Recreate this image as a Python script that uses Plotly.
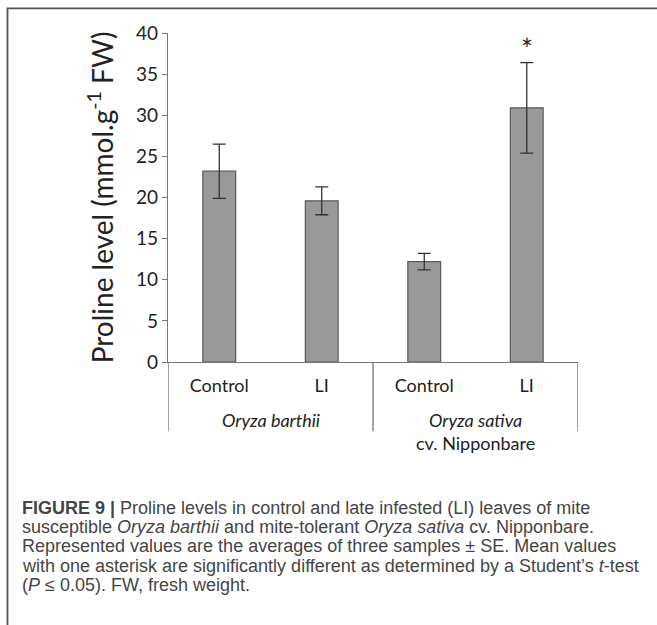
import plotly.graph_objects as go

# ---- data ----
categories = ["Control", "LI", "Control", "LI"]
groups = ["<i>Oryza barthii</i>", "<i>Oryza sativa</i><br>cv. Nipponbare"]
proline = [23.2, 19.6, 12.2, 30.9]
proline_se = [3.3, 1.7, 1.0, 5.5]
significant = [False, False, False, True]
y_ticks = [0, 5, 10, 15, 20, 25, 30, 35, 40]
caption_lines = [
    "<b>FIGURE 9 |</b> Proline levels in control and late infested (LI) leaves of mite",
    "susceptible <i>Oryza barthii</i> and mite-tolerant <i>Oryza sativa</i> cv. Nipponbare.",
    "Represented values are the averages of three samples ± SE. Mean values",
    "with one asterisk are significantly different as determined by a Student’s <i>t</i>-test",
    "(<i>P</i> ≤ 0.05). FW, fresh weight.",
]

# ---- geometry (pixels) ----
W, H = 657, 625
PL, PR, PT, PB = 168, 578, 32.7, 361.7
pw, ph = PR - PL, PB - PT


def px(x):
    return (x - PL) / pw


def py(y):
    return (PB - y) / ph


xs = list(range(len(categories)))
CHART_FONT = "Lato"

fig = go.Figure()
fig.add_trace(go.Bar(
    x=xs, y=proline, width=0.32,
    marker=dict(color="#999999", line=dict(color="#5a5a5a", width=1.2)),
    error_y=dict(type="data", array=proline_se, visible=True,
                 color="#333333", thickness=1.3, width=6.5),
    showlegend=False,
))

annotations = []
# significance asterisks
for i, (v, e, s) in enumerate(zip(proline, proline_se, significant)):
    if s:
        annotations.append(dict(x=i, y=v + e + 1.6, xref="x", yref="y", text="*",
                                showarrow=False, yanchor="middle",
                                font=dict(family=CHART_FONT, size=28, color="#222")))
# group labels
for g, label in enumerate(groups):
    annotations.append(dict(x=2 * g + 0.5, y=py(406.5), xref="x", yref="paper",
                            text=label, showarrow=False, yanchor="top",
                            font=dict(family=CHART_FONT, size=18, color="#222")))
# caption
cap_y = [508.0, 526.8, 545.6, 565.8, 584.6]
for t, yy in zip(caption_lines, cap_y):
    annotations.append(dict(x=px(20), y=py(yy), xref="paper", yref="paper",
                            text=t, showarrow=False, xanchor="left", yanchor="middle",
                            align="left",
                            font=dict(family="Liberation Sans", size=18, color="#454545")))

shapes = []
# group separator lines below axis
for xv in [-0.5, 1.5, 3.5]:
    shapes.append(dict(type="line", xref="x", yref="paper", x0=xv, x1=xv,
                       y0=0, y1=py(431), line=dict(color="#666", width=1.2)))
# frame (top and left edges)
shapes.append(dict(type="path", xref="paper", yref="paper",
                   path=f"M {px(7.5)},{py(650)} L {px(7.5)},{py(8)} L {px(700)},{py(8)}",
                   line=dict(color="#555555", width=1.8)))

fig.update_layout(
    width=W, height=H,
    margin=dict(l=PL, r=W - PR, t=PT, b=H - PB, pad=0),
    plot_bgcolor="white", paper_bgcolor="white",
    annotations=annotations, shapes=shapes,
)
fig.update_xaxes(
    range=[-0.5, 3.5], tickvals=xs, ticktext=categories,
    showline=True, linecolor="#777", linewidth=1.2, ticks="",
    showgrid=False, zeroline=False,
    tickfont=dict(family=CHART_FONT, size=18, color="#222"),
    ticklabelstandoff=7,
)
fig.update_yaxes(
    range=[0, 40], tickvals=y_ticks,
    showline=True, linecolor="#777", linewidth=1.2,
    ticks="outside", ticklen=5, tickcolor="#777", tickwidth=1.2,
    showgrid=False, zeroline=False,
    tickfont=dict(family=CHART_FONT, size=19, color="#222"),
    title=dict(text="Proline level (mmol.g<sup>-1</sup> FW)",
               font=dict(family=CHART_FONT, size=28, color="#222"), standoff=14),
)

fig.write_html("out.html", config={"displayModeBar": False},
               post_script="document.body.style.margin='0';")
